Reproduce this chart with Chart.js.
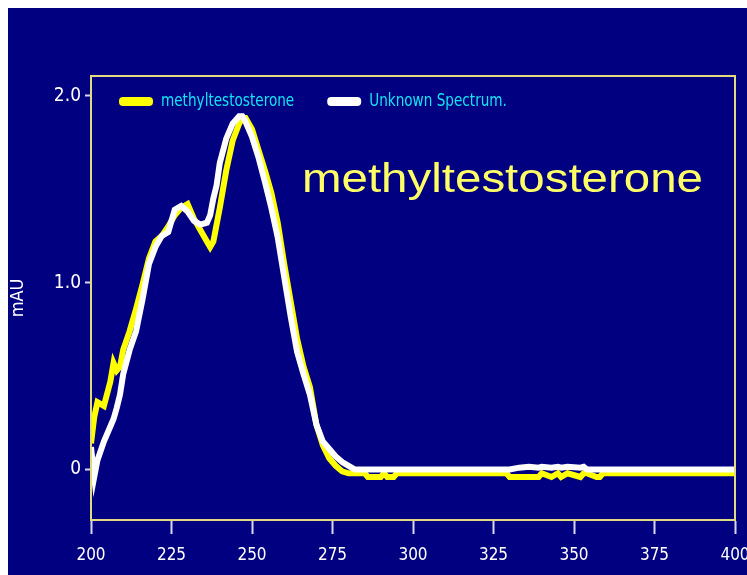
<!DOCTYPE html>
<html>
<head>
<meta charset="utf-8">
<title>Methyltestosterone UV spectrum</title>
<script src="https://cdn.jsdelivr.net/npm/chart.js@4/dist/chart.umd.min.js"></script>
<style>
  html, body { margin: 0; padding: 0; background: #ffffff; }
  body { width: 747px; height: 575px; position: relative; overflow: hidden; }
  #wrap { position: absolute; left: 8px; top: 8px; width: 739px; height: 567px; }
</style>
</head>
<body>
<div id="wrap"><canvas id="spec" width="739" height="567"></canvas></div>
<script>
// Wavelength grid (nm) shared by both spectra
const wavelengths = [
  200, 201, 202, 204, 206, 207, 208, 209, 210, 212, 214, 216, 218, 220, 222, 224,
  226, 228, 230, 232, 234, 236, 237, 238, 239, 240, 242, 244, 246, 247, 248, 250,
  252, 254, 256, 258, 260, 262, 264, 266, 268, 270, 272, 274, 276, 278, 280, 282,
  285, 286, 290, 291, 292, 294, 295, 310, 329, 330, 333, 336, 339, 340, 343, 345,
  346, 348, 352, 353, 354, 357, 358, 359, 380, 400
];

// Reference spectrum: methyltestosterone
const methylAbs = [
  0.14, 0.28, 0.36, 0.34, 0.47, 0.57, 0.53, 0.55, 0.64, 0.74, 0.86, 0.99, 1.13, 1.22, 1.25, 1.30,
  1.36, 1.40, 1.42, 1.34, 1.28, 1.22, 1.19, 1.22, 1.31, 1.40, 1.60, 1.76, 1.85, 1.88, 1.88, 1.82,
  1.71, 1.60, 1.48, 1.32, 1.10, 0.90, 0.70, 0.55, 0.44, 0.24, 0.13, 0.06, 0.02, -0.01, -0.02, -0.02,
  -0.02, -0.04, -0.04, -0.02, -0.04, -0.04, -0.02, -0.02, -0.02, -0.04, -0.04, -0.04, -0.04, -0.02, -0.04, -0.02,
  -0.04, -0.02, -0.04, -0.02, -0.02, -0.04, -0.04, -0.02, -0.02, -0.02
];

// Sample spectrum: unknown
const unknownAbs = [
  0.12, -0.04, 0.05, 0.15, 0.23, 0.27, 0.33, 0.40, 0.51, 0.64, 0.74, 0.91, 1.10, 1.19, 1.25, 1.27,
  1.39, 1.41, 1.38, 1.33, 1.31, 1.32, 1.36, 1.45, 1.52, 1.64, 1.77, 1.85, 1.89, 1.89, 1.86, 1.78,
  1.67, 1.54, 1.40, 1.24, 1.03, 0.82, 0.63, 0.51, 0.40, 0.24, 0.15, 0.11, 0.07, 0.04, 0.02, 0.00,
  0.00, 0.00, 0.00, 0.00, 0.00, 0.00, 0.00, 0.00, 0.00, 0.00, 0.01, 0.015, 0.01, 0.015, 0.01, 0.015,
  0.01, 0.015, 0.01, 0.015, 0.00, 0.00, 0.00, 0.00, 0.00, 0.00
];

const seriesNames = ['methyltestosterone', 'Unknown Spectrum.'];
const yTickValues = [0, 1, 2];
const yTickLabels = ['0', '1.0', '2.0'];
const xTickStep = 25;
const yAxisTitle = 'mAU';
const overlayTitle = 'methyltestosterone';

const NAVY = '#000080';
const FRAME = '#e2da7e';
const TICK = '#d8d8f4';
const NARROW = "'Liberation Sans Narrow', 'DejaVu Sans Condensed', 'Arial Narrow', sans-serif";

const toPoints = (ys) => wavelengths.map((x, i) => ({ x, y: ys[i] }));

// Navy panel behind everything
const panelBg = {
  id: 'panelBg',
  beforeDraw(chart) {
    const { ctx, width, height } = chart;
    ctx.save();
    ctx.fillStyle = NAVY;
    ctx.fillRect(0, 0, width, height);
    ctx.restore();
  }
};

// Frame around the plotting area (top and right sides included)
const plotFrame = {
  id: 'plotFrame',
  afterDraw(chart) {
    const { ctx, chartArea: a } = chart;
    ctx.save();
    ctx.strokeStyle = FRAME;
    ctx.lineWidth = 2;
    ctx.strokeRect(a.left, a.top, a.right - a.left, a.bottom - a.top);
    ctx.restore();
  }
};

// Legend row drawn inside the plot, built from the datasets
const insideLegend = {
  id: 'insideLegend',
  afterDraw(chart) {
    const { ctx, chartArea: a } = chart;
    const ds = chart.data.datasets;
    const squeeze = 0.84;
    let x = a.left + 28;
    const y = a.top + 25;
    ctx.save();
    ctx.font = '18px ' + NARROW;
    ctx.textBaseline = 'middle';
    [0, 1].forEach((i) => {
      const d = ds[i];
      ctx.fillStyle = d.borderColor;
      ctx.beginPath();
      if (ctx.roundRect) ctx.roundRect(x, y - 4, 34, 9, 4); else ctx.rect(x, y - 4, 34, 9);
      ctx.fill();
      x += 42;
      ctx.save();
      ctx.translate(x, y);
      ctx.scale(squeeze, 1);
      ctx.fillStyle = '#14e4f0';
      ctx.fillText(d.label, 0, 0);
      ctx.restore();
      x += ctx.measureText(d.label).width * squeeze + 33;
    });
    ctx.restore();
  }
};

// Large yellow caption inside the plot
const caption = {
  id: 'caption',
  afterDraw(chart) {
    const { ctx } = chart;
    ctx.save();
    ctx.font = '40px "Liberation Sans", Arial, sans-serif';
    ctx.fillStyle = '#ffff66';
    ctx.textBaseline = 'alphabetic';
    const w = ctx.measureText(overlayTitle).width;
    ctx.translate(294, 184);
    ctx.scale(401 / w, 1);
    ctx.fillText(overlayTitle, 0, 0);
    ctx.restore();
  }
};

new Chart(document.getElementById('spec'), {
  type: 'line',
  data: {
    datasets: [
      {
        label: seriesNames[0],
        data: toPoints(methylAbs),
        borderColor: '#ffff00',
        backgroundColor: '#ffff00',
        borderWidth: 6,
        pointRadius: 0,
        tension: 0,
        order: 1
      },
      {
        label: seriesNames[1],
        data: toPoints(unknownAbs),
        borderColor: '#ffffff',
        backgroundColor: '#ffffff',
        borderWidth: 6,
        pointRadius: 0,
        tension: 0,
        order: 0
      }
    ]
  },
  options: {
    responsive: false,
    animation: false,
    events: [],
    layout: { padding: { top: 68, right: 12, bottom: 0, left: 0 } },
    plugins: {
      legend: { display: false },
      tooltip: { enabled: false },
      title: { display: false }
    },
    scales: {
      x: {
        type: 'linear',
        min: 200,
        max: 400,
        afterFit(scale) {
          scale.height = 55;
          scale.paddingLeft = 0;
          scale.paddingRight = 0;
        },
        ticks: {
          stepSize: xTickStep,
          color: '#ffffff',
          font: { family: NARROW, size: 17 },
          padding: 11,
          maxRotation: 0
        },
        grid: {
          drawOnChartArea: false,
          drawTicks: true,
          tickLength: 14,
          tickWidth: 2,
          tickColor: TICK
        },
        border: { display: true, color: FRAME, width: 2 }
      },
      y: {
        type: 'linear',
        min: -0.27,
        max: 2.105,
        afterFit(scale) {
          scale.width = 83;
          scale.paddingTop = 0;
          scale.paddingBottom = 0;
        },
        afterBuildTicks(scale) { scale.ticks = yTickValues.map((v) => ({ value: v })); },
        ticks: {
          color: '#ffffff',
          font: { family: NARROW, size: 19 },
          padding: 4,
          callback(v) { const i = yTickValues.indexOf(v); return i >= 0 ? yTickLabels[i] : ''; }
        },
        grid: {
          drawOnChartArea: false,
          drawTicks: true,
          tickLength: 6,
          tickWidth: 2,
          tickColor: TICK
        },
        border: { display: true, color: FRAME, width: 2 },
        title: {
          display: true,
          text: yAxisTitle,
          color: '#ffffff',
          font: { family: NARROW, size: 18 },
          padding: { top: 0, bottom: 0 }
        }
      }
    }
  },
  plugins: [panelBg, plotFrame, insideLegend, caption]
});
</script>
</body>
</html>
